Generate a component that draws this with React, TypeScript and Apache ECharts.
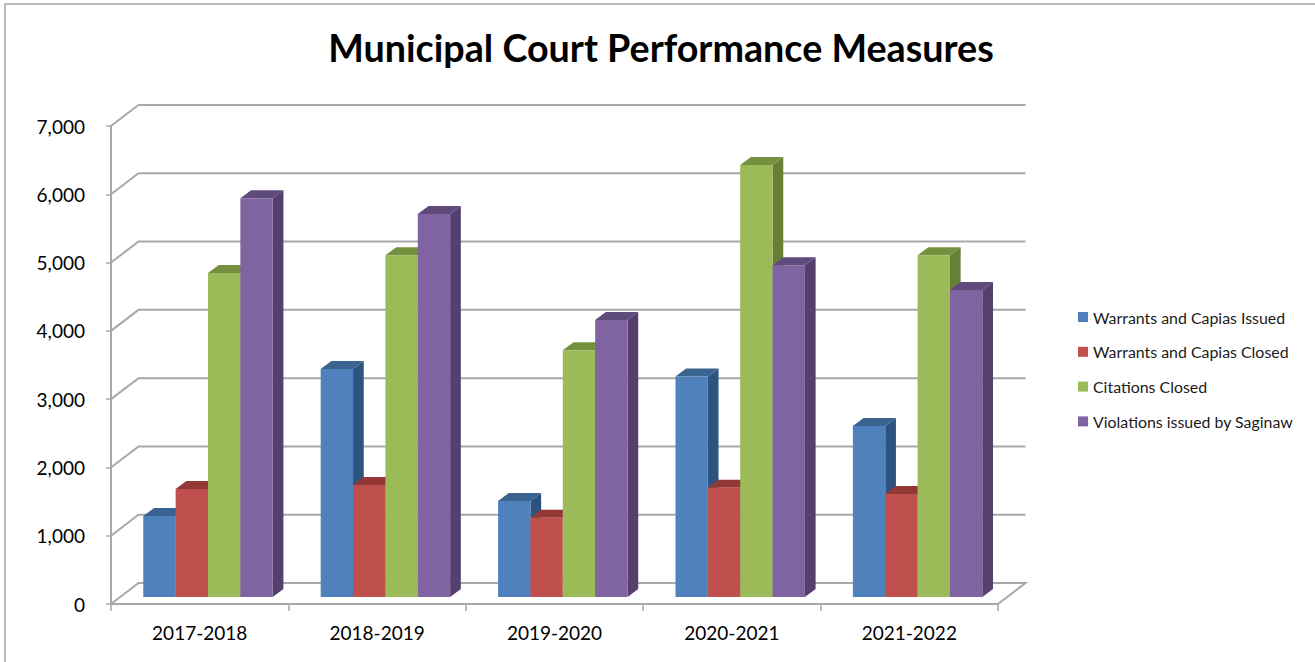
import React, { useEffect, useRef } from "react";
import * as echarts from "echarts";

const categories = ["2017-2018", "2018-2019", "2019-2020", "2020-2021", "2021-2022"];
const warrantsIssued = [1185, 3340, 1405, 3230, 2505];
const warrantsClosed = [1580, 1640, 1160, 1600, 1510];
const citationsClosed = [4745, 5005, 3615, 6325, 5005];
const violationsIssued = [5840, 5610, 4055, 4860, 4495];
const yTicks = [0, 1000, 2000, 3000, 4000, 5000, 6000, 7000];

const seriesNames = [
  "Warrants and Capias Issued",
  "Warrants and Capias Closed",
  "Citations Closed",
  "Violations issued by Saginaw",
];
const seriesValues = [warrantsIssued, warrantsClosed, citationsClosed, violationsIssued];
const frontColors = ["#4F81BD", "#C0504D", "#9BBB59", "#8064A2"];
const topColors = ["#3A6390", "#943836", "#75903F", "#5F4A7C"];
const sideColors = ["#2F5380", "#853230", "#688035", "#543F6E"];

const FONT = "Lato";
const GRID_COLOR = "#a8a8a8";
const WALL_DX = 27.5;
const WALL_DY = -21;
const BAR_DX = 10.7;
const BAR_DY = -8;
const BASE_DX = 8.3;
const BASE_DY = -7;

function wallRender(params: any, api: any) {
  const v = api.value(0);
  const cs = params.coordSys;
  const y = api.coord([0, v])[1];
  const x0 = cs.x;
  const x1 = cs.x + cs.width;
  const points =
    v === 0
      ? [
          [x0, y],
          [x0 + WALL_DX, y + WALL_DY],
          [x1 + WALL_DX, y + WALL_DY],
          [x1, y],
        ]
      : [
          [x0, y],
          [x0 + WALL_DX, y + WALL_DY],
          [x1 + WALL_DX, y + WALL_DY],
        ];
  return {
    type: "polyline",
    shape: { points },
    style: { stroke: GRID_COLOR, lineWidth: 2, fill: "none" },
  };
}

function barRender(si: number) {
  return (params: any, api: any) => {
    const cat = api.value(0);
    const val = api.value(1);
    const top = api.coord([cat, val]);
    const bottom = api.coord([cat, 0]);
    const band = api.size([1, 0])[0];
    const w = band * 0.1824;
    const xl = top[0] + BASE_DX - 2 * w + si * w;
    const xr = xl + w;
    const yt = top[1] + BASE_DY;
    const yb = bottom[1] + BASE_DY;
    return {
      type: "group",
      children: [
        {
          type: "polygon",
          shape: {
            points: [
              [xr, yt],
              [xr + BAR_DX, yt + BAR_DY],
              [xr + BAR_DX, yb + BAR_DY],
              [xr, yb],
            ],
          },
          style: { fill: sideColors[si] },
        },
        {
          type: "polygon",
          shape: {
            points: [
              [xl, yt],
              [xl + BAR_DX, yt + BAR_DY],
              [xr + BAR_DX, yt + BAR_DY],
              [xr, yt],
            ],
          },
          style: { fill: topColors[si] },
        },
        {
          type: "rect",
          shape: { x: xl, y: yt, width: w, height: yb - yt },
          style: { fill: frontColors[si] },
        },
      ],
    };
  };
}

export default function App() {
  const ref = useRef<HTMLDivElement>(null);
  useEffect(() => {
    document.body.style.margin = "0";
    const chart = echarts.init(ref.current!, null, { renderer: "svg" });
    chart.setOption({
      animation: false,
      backgroundColor: "#ffffff",
      title: {
        text: "Municipal Court Performance Measures",
        left: 656,
        top: 23,
        textAlign: "center",
        textStyle: { fontFamily: FONT, fontSize: 37.7, fontWeight: "bold", color: "#000" },
      },
      legend: {
        data: seriesNames,
        orient: "vertical",
        left: 1078,
        top: 309,
        padding: 0,
        itemWidth: 10,
        itemHeight: 10,
        itemGap: 18.8,
        icon: "rect",
        textStyle: { fontFamily: FONT, fontSize: 15.9, color: "#1a1a1a" },
        selectedMode: false,
      },
      grid: { left: 111, right: 317, top: 126, bottom: 58 },
      xAxis: {
        type: "category",
        data: categories,
        axisLine: { show: true, lineStyle: { color: GRID_COLOR, width: 2 } },
        axisTick: { show: true, alignWithLabel: false, length: 7, lineStyle: { color: GRID_COLOR, width: 1.5 } },
        axisLabel: { fontFamily: FONT, fontSize: 19, color: "#000", margin: 19 },
        splitLine: { show: false },
      },
      yAxis: {
        type: "value",
        min: 0,
        max: 7000,
        interval: 1000,
        axisLine: { show: true, lineStyle: { color: GRID_COLOR, width: 2 } },
        axisTick: { show: true, length: 5, lineStyle: { color: GRID_COLOR, width: 1.5 } },
        axisLabel: {
          fontFamily: FONT,
          fontSize: 19,
          color: "#000",
          margin: 26,
          formatter: (v: number) => v.toLocaleString("en-US"),
        },
        splitLine: { show: false },
      },
      series: [
        {
          type: "custom",
          name: "walls",
          silent: true,
          clip: false,
          z: 1,
          data: yTicks.map((v) => [v]),
          encode: { y: 0 },
          renderItem: wallRender,
        },
        ...seriesNames.map((name, si) => ({
          type: "custom",
          name,
          clip: false,
          z: 3,
          itemStyle: { color: frontColors[si] },
          encode: { x: 0, y: 1 },
          data: seriesValues[si].map((v, i) => [i, v]),
          renderItem: barRender(si),
        })),
      ],
      graphic: [
        {
          type: "polyline",
          shape: { points: [[1315, 4], [5, 4], [5, 662]] },
          style: { stroke: "#a6a6a6", lineWidth: 1.5, fill: "none" },
          silent: true,
        },
      ],
    });
    return () => chart.dispose();
  }, []);
  return <div ref={ref} style={{ width: 1315, height: 662 }} />;
}
